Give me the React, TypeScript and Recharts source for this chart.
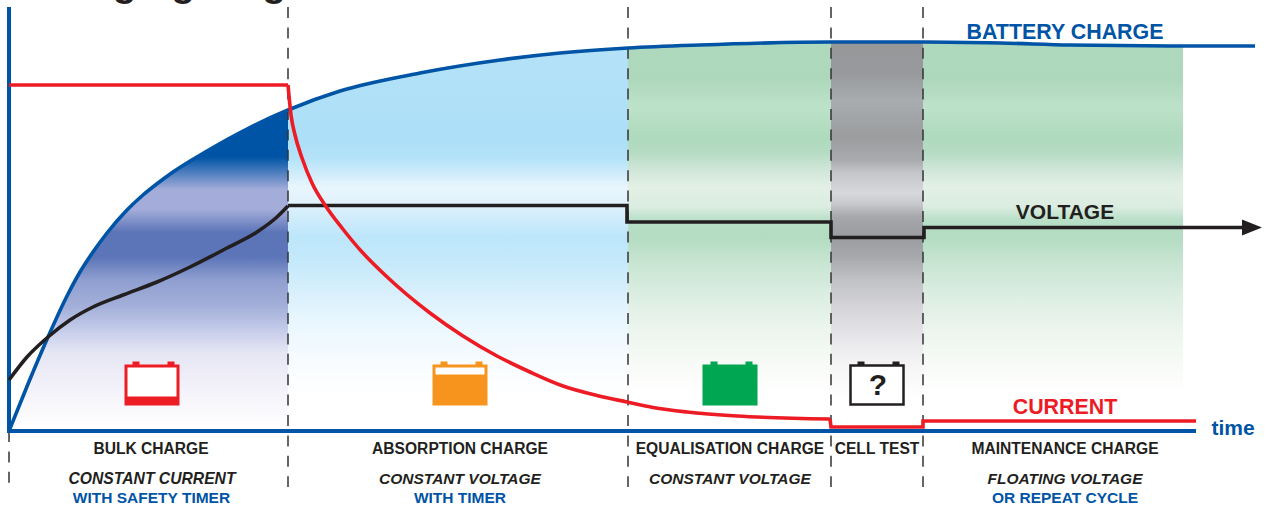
import { ComposedChart, Area, Line, XAxis, YAxis, ReferenceLine, ReferenceDot } from "recharts";

// ---------------------------------------------------
// DATA
// ---------------------------------------------------
const chargeTimes = [0, 19, 39, 58, 71, 84, 98, 118, 134, 149, 164, 198, 238, 279, 331, 411, 491, 551, 619, 691, 822, 914, 991, 1061, 1174, 1246];
const chargeLevels = [0, 47, 94, 135, 159, 179, 198, 221, 236, 248, 259, 280, 302, 321, 340, 358, 371, 378, 383, 386, 389, 389, 388, 386, 385, 385];

const voltageCurveTimes = [0, 18, 39, 61, 84, 114, 148, 181, 218, 248, 268, 279];
const voltageCurveLevels = [51, 74, 94, 111, 124, 136, 149, 164, 183, 199, 214, 225];
const voltageStepTimes = [279, 618, 618, 822, 822, 915, 915, 1236];
const voltageStepLevels = [225.5, 225.5, 209, 209, 193.5, 193.5, 203.5, 203.5];

const currentCurveTimes = [279, 282, 286, 293, 303, 318, 333, 353, 376, 421, 454, 488, 521, 554, 588, 618, 644, 678, 728, 821];
const currentCurveLevels = [346, 316, 296, 273, 248, 223, 203, 179, 156, 118, 95, 75, 59, 45, 35.5, 29, 23.5, 19, 15, 12];
const currentStepTimes = [0, 279];
const currentStepLevels = [346, 346];
const currentTailTimes = [821, 822, 914, 914, 1187];
const currentTailLevels = [12, 4, 4, 10, 10];

const phaseBounds = [0, 279, 619, 822, 914, 1174];
const phaseNames = ["BULK CHARGE", "ABSORPTION CHARGE", "EQUALISATION CHARGE", "CELL TEST", "MAINTENANCE CHARGE"];
const phaseModes = ["CONSTANT CURRENT", "CONSTANT VOLTAGE", "CONSTANT VOLTAGE", "FLOATING VOLTAGE"];
const phaseNotes = ["WITH SAFETY TIMER", "WITH TIMER", "OR REPEAT CYCLE"];

const zip = (ts: number[], ls: number[]) => ts.map((t, i) => ({ t, level: ls[i] }));
const chargeData = zip(chargeTimes, chargeLevels);
const between = (a: number, b: number) => chargeData.filter((d) => d.t >= a && d.t <= b);

const DARK = "#231f20";
const BLUE = "#0054a6";
const RED = "#ed1c24";

// ---------------------------------------------------
// SMALL HELPERS
// ---------------------------------------------------
function caption(text: string, t: number, level: number, size: number, color: string, italic = false, anchor = "middle") {
  return (
    <ReferenceDot
      key={text + t}
      x={t}
      y={level}
      r={0}
      ifOverflow="visible"
      shape={(p: any) => (
        <text
          x={p.cx}
          y={p.cy}
          textAnchor={anchor as any}
          dominantBaseline="central"
          fontFamily="Liberation Sans"
          fontWeight="bold"
          fontStyle={italic ? "italic" : "normal"}
          fontSize={size}
          fill={color}
        >
          {text}
        </text>
      )}
    />
  );
}

function battery(t: number, color: string, kind: string) {
  return (
    <ReferenceDot
      key={kind}
      x={t}
      y={46}
      r={0}
      ifOverflow="visible"
      shape={(p: any) => {
        const x = p.cx - 27.5;
        const y = p.cy - 20.5;
        return (
          <g>
            <rect x={x + 8} y={y - 3} width={7} height={4} fill={color} />
            <rect x={x + 43} y={y - 3} width={7} height={4} fill={color} />
            {kind === "test" ? (
              <>
                <rect x={x + 1} y={y + 1} width={53} height={39} fill="#fff" stroke={color} strokeWidth={2.5} />
                <text x={p.cx + 1} y={p.cy + 10} textAnchor="middle" fontFamily="Liberation Sans" fontWeight="bold" fontSize={30} fill={color}>?</text>
              </>
            ) : (
              <rect x={x} y={y} width={55} height={41} fill={color} />
            )}
            {kind === "bulk" && <rect x={x + 3} y={y + 3} width={49} height={29} fill="#fff" />}
            {kind === "absorb" && <rect x={x + 3} y={y + 3} width={49} height={7} fill="#fff" />}
          </g>
        );
      }}
    />
  );
}

const divider = (t: number, top: number) => (
  <ReferenceLine
    key={t}
    segment={[{ x: t, y: top }, { x: t, y: -56 }]}
    ifOverflow="visible"
    stroke="#333"
    strokeWidth={1.5}
    strokeDasharray="11 9.4"
  />
);

// ---------------------------------------------------
// MAIN COMPONENT
// ---------------------------------------------------
export default function App() {
  return (
    <div style={{ position: "absolute", left: 0, top: 0, width: 1269, height: 506, background: "#fff" }}>
      <ComposedChart width={1269} height={506} margin={{ top: 0, right: 0, bottom: 0, left: 0 }}>
        <defs>
          <linearGradient id="bulkFill" gradientUnits="userSpaceOnUse" x1="0" y1="105" x2="0" y2="431">
            <stop offset="0" stopColor="#0054a6" />
            <stop offset="0.16" stopColor="#0054a6" />
            <stop offset="0.26" stopColor="#a4add9" />
            <stop offset="0.32" stopColor="#a4add9" />
            <stop offset="0.39" stopColor="#5c75b8" />
            <stop offset="0.466" stopColor="#5c75b8" />
            <stop offset="0.537" stopColor="#8f9fd0" />
            <stop offset="0.62" stopColor="#a4b0d9" />
            <stop offset="0.68" stopColor="#c0c8e8" />
            <stop offset="0.76" stopColor="#e6e6f4" />
            <stop offset="0.853" stopColor="#f1f0f9" />
            <stop offset="0.99" stopColor="#ffffff" />
          </linearGradient>
          <linearGradient id="absorbFill" gradientUnits="userSpaceOnUse" x1="0" y1="48" x2="0" y2="431">
            <stop offset="0" stopColor="#b4e2f8" />
            <stop offset="0.24" stopColor="#acdff8" />
            <stop offset="0.29" stopColor="#b5e3f9" />
            <stop offset="0.363" stopColor="#e8f5fd" />
            <stop offset="0.405" stopColor="#e0f2fc" />
            <stop offset="0.43" stopColor="#d5eefb" />
            <stop offset="0.493" stopColor="#bde6fa" />
            <stop offset="0.553" stopColor="#c4e9fb" />
            <stop offset="0.624" stopColor="#d5eefb" />
            <stop offset="0.71" stopColor="#e8f6fe" />
            <stop offset="0.822" stopColor="#f8fcff" />
            <stop offset="0.91" stopColor="#ffffff" />
          </linearGradient>
          <linearGradient id="greenFill" gradientUnits="userSpaceOnUse" x1="0" y1="42" x2="0" y2="431">
            <stop offset="0" stopColor="#afd9bd" />
            <stop offset="0.098" stopColor="#aed8bc" />
            <stop offset="0.167" stopColor="#bde2ca" />
            <stop offset="0.244" stopColor="#aedabd" />
            <stop offset="0.285" stopColor="#b6dcc4" />
            <stop offset="0.329" stopColor="#d0e6d8" />
            <stop offset="0.373" stopColor="#e3f0e6" />
            <stop offset="0.424" stopColor="#dbece0" />
            <stop offset="0.458" stopColor="#b8dfc7" />
            <stop offset="0.501" stopColor="#b3dcc2" />
            <stop offset="0.568" stopColor="#c8e5d2" />
            <stop offset="0.656" stopColor="#ddeee3" />
            <stop offset="0.74" stopColor="#ecf5ee" />
            <stop offset="0.825" stopColor="#f7faf6" />
            <stop offset="0.907" stopColor="#ffffff" />
          </linearGradient>
          <linearGradient id="testFill" gradientUnits="userSpaceOnUse" x1="0" y1="42" x2="0" y2="431">
            <stop offset="0" stopColor="#959799" />
            <stop offset="0.08" stopColor="#97999c" />
            <stop offset="0.149" stopColor="#a9acaf" />
            <stop offset="0.244" stopColor="#9b9d9f" />
            <stop offset="0.303" stopColor="#a8aaad" />
            <stop offset="0.337" stopColor="#c4c6ca" />
            <stop offset="0.388" stopColor="#d6d8dc" />
            <stop offset="0.414" stopColor="#c8cacd" />
            <stop offset="0.45" stopColor="#a5a7aa" />
            <stop offset="0.5" stopColor="#9a9c9f" />
            <stop offset="0.553" stopColor="#a7a9ac" />
            <stop offset="0.612" stopColor="#c0c2c5" />
            <stop offset="0.681" stopColor="#d5d4d8" />
            <stop offset="0.766" stopColor="#e8e7eb" />
            <stop offset="0.825" stopColor="#f4f4f5" />
            <stop offset="0.92" stopColor="#ffffff" />
          </linearGradient>
        </defs>

        <XAxis type="number" dataKey="t" domain={[-9, 1260]} hide />
        <YAxis type="number" dataKey="level" domain={[-75, 431]} hide />

        {/* PHASE FILLS */}
        <Area data={between(phaseBounds[0], phaseBounds[1])} dataKey="level" type="monotone" baseValue={0} stroke="none" fill="url(#bulkFill)" fillOpacity={1} activeDot={false} isAnimationActive={false} />
        <Area data={between(phaseBounds[1], phaseBounds[2])} dataKey="level" type="monotone" baseValue={0} stroke="none" fill="url(#absorbFill)" fillOpacity={1} activeDot={false} isAnimationActive={false} />
        <Area data={between(phaseBounds[2], phaseBounds[3])} dataKey="level" type="monotone" baseValue={0} stroke="none" fill="url(#greenFill)" fillOpacity={1} activeDot={false} isAnimationActive={false} />
        <Area data={between(phaseBounds[3], phaseBounds[4])} dataKey="level" type="monotone" baseValue={0} stroke="none" fill="url(#testFill)" fillOpacity={1} activeDot={false} isAnimationActive={false} />
        <Area data={between(phaseBounds[4], phaseBounds[5])} dataKey="level" type="monotone" baseValue={0} stroke="none" fill="url(#greenFill)" fillOpacity={1} activeDot={false} isAnimationActive={false} />

        {/* DIVIDERS AND AXES */}
        {divider(0, 0)}
        {phaseBounds.slice(1, 5).map((t) => divider(t, 424))}
        <ReferenceLine segment={[{ x: 0, y: 424 }, { x: 0, y: -2 }]} ifOverflow="visible" stroke={BLUE} strokeWidth={4} />
        <ReferenceLine segment={[{ x: -2, y: 0 }, { x: 1187, y: 0 }]} ifOverflow="visible" stroke={BLUE} strokeWidth={4} />

        {/* SERIES */}
        <Line data={chargeData} dataKey="level" type="monotone" stroke={BLUE} strokeWidth={3.6} dot={false} activeDot={false} isAnimationActive={false} />
        <Line data={zip(voltageCurveTimes, voltageCurveLevels)} dataKey="level" type="monotone" stroke={DARK} strokeWidth={3.6} dot={false} activeDot={false} isAnimationActive={false} />
        <Line data={zip(voltageStepTimes, voltageStepLevels)} dataKey="level" type="linear" stroke={DARK} strokeWidth={3.6} dot={false} activeDot={false} isAnimationActive={false} />
        <Line data={zip(currentStepTimes, currentStepLevels)} dataKey="level" type="linear" stroke={RED} strokeWidth={3.6} dot={false} activeDot={false} isAnimationActive={false} />
        <Line data={zip(currentCurveTimes, currentCurveLevels)} dataKey="level" type="monotone" stroke={RED} strokeWidth={3.6} dot={false} activeDot={false} isAnimationActive={false} />
        <Line data={zip(currentTailTimes, currentTailLevels)} dataKey="level" type="linear" stroke={RED} strokeWidth={3.6} dot={false} activeDot={false} isAnimationActive={false} />

        {/* VOLTAGE ARROW */}
        <ReferenceDot
          x={1233}
          y={203.5}
          r={0}
          ifOverflow="visible"
          shape={(p: any) => <polygon points={`${p.cx},${p.cy - 8} ${p.cx + 20},${p.cy} ${p.cx},${p.cy + 8}`} fill={DARK} />}
        />

        {/* ICONS */}
        {battery(143, RED, "bulk")}
        {battery(451, "#f7941d", "absorb")}
        {battery(721, "#00a651", "equal")}
        {battery(868, DARK, "test")}

        {/* TEXT */}
        {caption("Charging stages", 15, 448.5, 39, DARK, false, "start")}
        {caption("BATTERY CHARGE", 1056, 399, 21.4, BLUE)}
        {caption("VOLTAGE", 1056, 219.5, 21, DARK)}
        {caption("CURRENT", 1056, 24.5, 21.4, RED)}
        {caption("time", 1224, 3.5, 21, BLUE)}

        {caption(phaseNames[0], 142, -17, 15.6, DARK)}
        {caption(phaseNames[1], 451, -17, 15.6, DARK)}
        {caption(phaseNames[2], 721, -17, 15.6, DARK)}
        {caption(phaseNames[3], 868, -17, 15.6, DARK)}
        {caption(phaseNames[4], 1056, -17, 15.6, DARK)}

        {caption(phaseModes[0], 143, -47.5, 15.7, DARK, true)}
        {caption(phaseModes[1], 451, -47.5, 15.5, DARK, true)}
        {caption(phaseModes[2], 721, -47.5, 15.5, DARK, true)}
        {caption(phaseModes[3], 1056, -47.5, 15.5, DARK, true)}

        {caption(phaseNotes[0], 142.5, -66.5, 15.5, BLUE)}
        {caption(phaseNotes[1], 451, -66.5, 15.5, BLUE)}
        {caption(phaseNotes[2], 1056, -66.5, 15.5, BLUE)}
      </ComposedChart>
    </div>
  );
}
